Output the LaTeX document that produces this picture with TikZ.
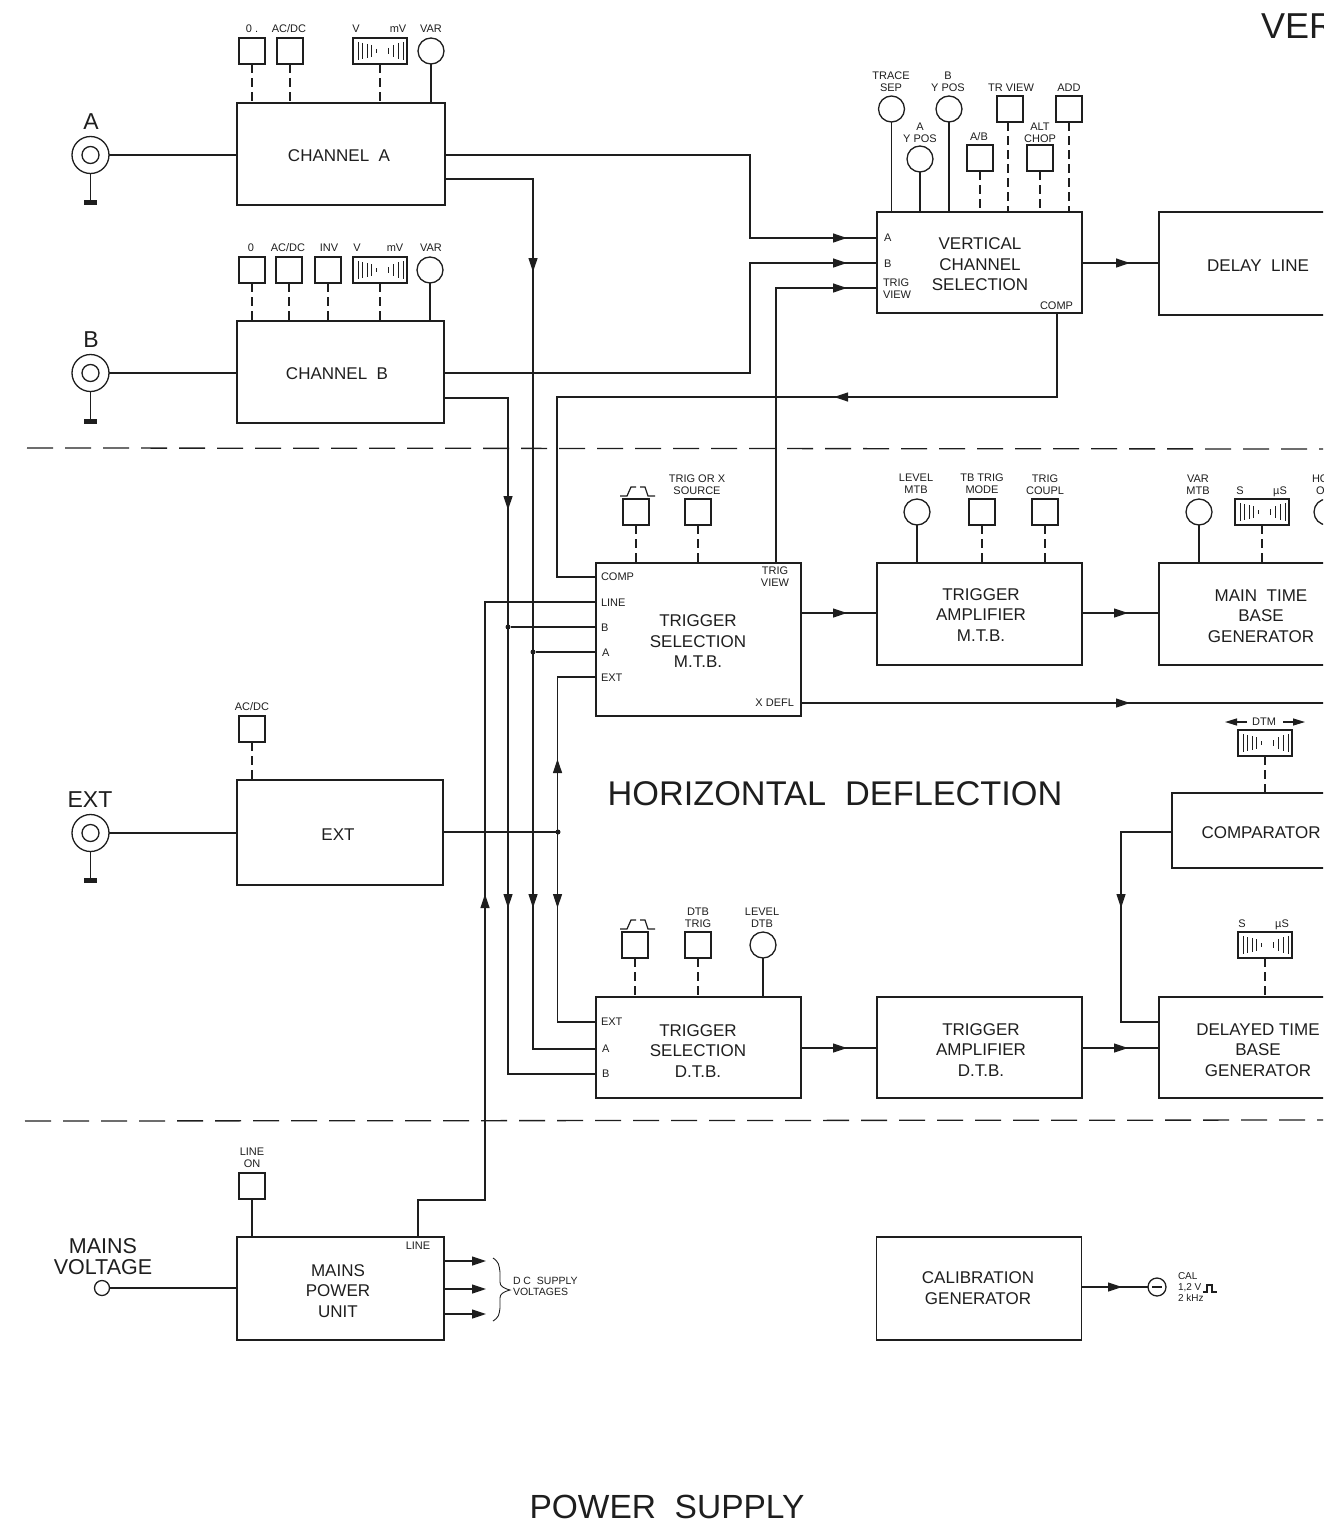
\documentclass[tikz,border=0pt]{standalone}
\usepackage{fontspec}
\setmainfont{Liberation Sans}
\usetikzlibrary{arrows.meta}
\definecolor{ink}{HTML}{1E1E1E}
\newcounter{lc}
\newcommand\smallf{\fontsize{11}{12}\selectfont}
\newcommand\blockf{\fontsize{17}{20.5}\selectfont}
\newcommand\lab[4][]{\stepcounter{lc}\node[lbl,#1] (lab\arabic{lc}) at (#2,#3) {#4};}
\newcommand\hugelab[4][]{\stepcounter{lc}\node[hugel,#1] (lab\arabic{lc}) at (#2,#3) {#4};}
\newcommand\tipline[4]{\draw[tipw] (#1,#2) -- (#3,#4);}
% range switch: name, x, y
\newcommand\rangesw[3]{%
  \node[swbox] (#1) at (#2,#3) {};
  \draw[draw=ink,line width=0.9pt,shift={(#2,#3)}]
    (-22,-9)--(-22,9) (-18,-8)--(-18,8) (-13,-7)--(-13,7) (-9,-6)--(-9,6) (-4,-2)--(-4,2)
    (8,-3)--(8,3) (13,-6)--(13,6) (18,-8)--(18,8) (23,-9)--(23,9);
}
% small pulse symbol: x, y
\newcommand\pulsesym[2]{%
  \draw[wire,shift={(#1,#2)}] (-16,5)--(-9,5)--(-5,-4)--(0,-4) (4,-4)--(9,-4)--(12,5)--(19,5);
}
\tikzset{
  wire/.style={draw=ink,line width=1.2pt},
  dashw/.style={draw=ink,line width=1.2pt,dash pattern=on 9pt off 5pt},
  tipw/.style={draw=ink,fill=ink,line width=1.2pt,-{Triangle[length=14pt,width=9pt]}},
  sep/.style={draw=ink,line width=1.3pt,dash pattern=on 26pt off 12pt},
  block/.style={draw=ink,line width=1.4pt,rectangle,outer sep=0pt,inner sep=0pt},
  btext/.style={inner sep=0pt,outer sep=0pt,align=center,font=\blockf,text=ink},
  sq/.style={draw=ink,line width=1.7pt,rectangle,minimum width=26pt,minimum height=26pt,outer sep=0pt,inner sep=0pt},
  knob/.style={draw=ink,line width=1.3pt,circle,minimum size=26pt,outer sep=0pt,inner sep=0pt},
  swbox/.style={draw=ink,line width=1.4pt,rectangle,minimum width=54pt,minimum height=26pt,outer sep=0pt,inner sep=0pt},
  jack/.style={draw=ink,line width=1.3pt,circle,outer sep=0pt,inner sep=0pt},
  dot/.style={fill=ink,circle,minimum size=5pt,inner sep=0pt,outer sep=0pt},
  lbl/.style={anchor=north,inner sep=0pt,outer sep=0pt,font=\smallf,text=ink,align=center},
  hugel/.style={anchor=north,inner sep=0pt,outer sep=0pt,text=ink,align=center},
}
\begin{document}
\begin{tikzpicture}[x=1pt,y=-1pt]
\useasboundingbox (0,0) rectangle (1341,1528);
\begin{scope}
\clip (0,0) rectangle (1323,1528);

% separators
\coordinate (sa) at (27,448); \coordinate (sb) at (1330,449);
\coordinate (sc) at (25,1121); \coordinate (sd) at (1330,1120);
\draw[sep] (sa) -- (sb);
\draw[sep] (sc) -- (sd);

% blocks
\node[block,minimum width=208pt,minimum height=102pt] (cha) at (341,154) {};
\node[btext] (chaT) at (339,156) {CHANNEL\ \ A};
\node[block,minimum width=207pt,minimum height=102pt] (chb) at (340.5,372) {};
\node[btext] (chbT) at (337,374) {CHANNEL\ \ B};
\node[block,minimum width=206pt,minimum height=105pt] (ext) at (340,832.5) {};
\node[btext] (extT) at (338,835) {EXT};
\node[block,minimum width=207pt,minimum height=103pt] (mains) at (340.5,1288.5) {};
\node[btext] (mainsT) at (338,1291) {MAINS\\POWER\\UNIT};
\node[block,minimum width=205pt,minimum height=101pt] (vcs) at (979.5,262.5) {};
\node[btext] (vcsT) at (980,264.5) {VERTICAL\\CHANNEL\\SELECTION};
\node[block,minimum width=198pt,minimum height=103pt] (dl) at (1258,263.5) {};
\node[btext] (dlT) at (1258,266) {DELAY\ \ LINE};
\node[block,minimum width=205pt,minimum height=153pt] (tsm) at (698.5,639.5) {};
\node[btext] (tsmT) at (698,641.5) {TRIGGER\\SELECTION\\M.T.B.};
\node[block,minimum width=205pt,minimum height=102pt] (tam) at (979.5,614) {};
\node[btext] (tamT) at (981,615) {TRIGGER\\AMPLIFIER\\M.T.B.};
\node[block,minimum width=204pt,minimum height=102pt] (mtb) at (1261,614) {};
\node[btext] (mtbT) at (1261,616) {MAIN\ \ TIME\\BASE\\GENERATOR};
\node[block,minimum width=178pt,minimum height=75pt] (cmp) at (1261,830.5) {};
\node[btext] (cmpT) at (1261,833) {COMPARATOR};
\node[block,minimum width=205pt,minimum height=101pt] (tsd) at (698.5,1047.5) {};
\node[btext] (tsdT) at (698,1051) {TRIGGER\\SELECTION\\D.T.B.};
\node[block,minimum width=205pt,minimum height=101pt] (tad) at (979.5,1047.5) {};
\node[btext] (tadT) at (981,1050) {TRIGGER\\AMPLIFIER\\D.T.B.};
\node[block,minimum width=198pt,minimum height=101pt] (dtb) at (1258,1047.5) {};
\node[btext] (dtbT) at (1258,1050) {DELAYED\ TIME\\BASE\\GENERATOR};
\node[block,minimum width=205pt,minimum height=103pt] (cal) at (979,1288.5) {};
\node[btext] (calT) at (978,1288) {CALIBRATION\\GENERATOR};

% jacks
\foreach \nm/\yy in {ja/155,jb/373,je/833}{
  \node[jack,minimum size=37pt] (\nm) at (90.5,\yy) {};
  \node[jack,minimum size=17pt] (\nm i) at (90.5,\yy) {};
}
\coordinate (ga) at (90.5,202); \coordinate (gb) at (90.5,421); \coordinate (ge) at (90.5,880);
\foreach \j/\g in {ja/ga,jb/gb,je/ge}{
  \draw[wire] (\j) -- (\g);
  \fill[ink] ([shift={(-6.5,-2.5)}]\g) rectangle ([shift={(6.5,2.5)}]\g);
}
\draw[wire] (ja) -- (ja -| cha.west);
\draw[wire] (jb) -- (jb -| chb.west);
\draw[wire] (je) -- (je -| ext.west);
\hugelab[font=\fontsize{23}{23}\selectfont]{91}{114}{A}
\hugelab[font=\fontsize{23}{23}\selectfont]{91}{332}{B}
\hugelab[font=\fontsize{23}{23}\selectfont]{90}{792}{EXT}

% channel A controls
\node[sq] (a0) at (252,51) {};
\node[sq] (a1) at (290,51) {};
\rangesw{a2}{380}{51}
\node[knob] (a3) at (431,51) {};
\lab{252}{25}{0\ .} \lab{289}{25}{AC/DC} \lab{356}{25}{V} \lab{398}{25}{mV} \lab{431}{25}{VAR}
\draw[dashw] (a0) -- (a0 |- cha.north);
\draw[dashw] (a1) -- (a1 |- cha.north);
\draw[dashw] (a2) -- (a2 |- cha.north);
\draw[wire] (a3) -- (a3 |- cha.north);

% channel B controls
\node[sq] (b0) at (252,270) {};
\node[sq] (b1) at (289,270) {};
\node[sq] (b2) at (328,270) {};
\rangesw{b3}{380}{270}
\node[knob] (b4) at (430,270) {};
\lab{251}{244}{0} \lab{288}{244}{AC/DC} \lab{329}{244}{INV} \lab{357}{244}{V} \lab{395}{244}{mV} \lab{431}{244}{VAR}
\draw[dashw] (b0) -- (b0 |- chb.north);
\draw[dashw] (b1) -- (b1 |- chb.north);
\draw[dashw] (b2) -- (b2 |- chb.north);
\draw[dashw] (b3) -- (b3 |- chb.north);
\draw[wire] (b4) -- (b4 |- chb.north);

% ext control
\node[sq] (e0) at (252,729) {};
\lab{252}{703}{AC/DC}
\draw[dashw] (e0) -- (e0 |- ext.north);

% vertical channel selection controls
\node[knob] (v1) at (891.5,109) {};
\node[knob] (v2) at (920,159) {};
\node[knob] (v3) at (949,109) {};
\node[sq] (v4) at (980,158) {};
\node[sq] (v5) at (1010,109) {};
\node[sq] (v6) at (1040,158) {};
\node[sq] (v7) at (1069,109) {};
\lab{891}{72}{TRACE\\SEP}
\lab{948}{72}{B\\Y POS}
\lab{920}{123}{A\\Y POS}
\lab{979}{133}{A/B}
\lab{1011}{84}{TR VIEW}
\lab{1040}{123}{ALT\\CHOP}
\lab{1069}{84}{ADD}
\draw[wire] (v1) -- (v1 |- vcs.north);
\draw[wire] (v2) -- (v2 |- vcs.north);
\draw[wire] (v3) -- (v3 |- vcs.north);
\draw[dashw] (v4) -- (v4 |- vcs.north);
\coordinate (v5b) at (1008,122); \draw[dashw] (v5b) -- (v5b |- vcs.north);
\draw[dashw] (v6) -- (v6 |- vcs.north);
\draw[dashw] (v7) -- (v7 |- vcs.north);
\lab[anchor=north west]{884}{234}{A}
\lab[anchor=north west]{884}{260}{B}
\lab[anchor=north west,align=left]{883}{279}{TRIG\\VIEW}
\lab[anchor=north east]{1073}{302}{COMP}

% trigger selection MTB controls
\pulsesym{636}{491}
\node[sq] (m1) at (636,512) {};
\node[sq] (m2) at (698,512) {};
\lab{697}{475}{TRIG OR X\\SOURCE}
\draw[dashw] (m1) -- (m1 |- tsm.north);
\draw[dashw] (m2) -- (m2 |- tsm.north);
\lab[anchor=north west]{601}{573}{COMP}
\lab[anchor=north west]{601}{599}{LINE}
\lab[anchor=north west]{601}{624}{B}
\lab[anchor=north west]{602}{649}{A}
\lab[anchor=north west]{601}{674}{EXT}
\lab{775}{567}{TRIG\\VIEW}
\lab[anchor=north east]{794}{699}{X DEFL}

% trigger amp MTB controls
\node[knob] (n1) at (917,512) {};
\node[sq] (n2) at (982,512) {};
\node[sq] (n3) at (1045,512) {};
\lab{916}{474}{LEVEL\\MTB}
\lab{982}{474}{TB TRIG\\MODE}
\lab{1045}{475}{TRIG\\COUPL}
\draw[wire] (n1) -- (n1 |- tam.north);
\draw[dashw] (n2) -- (n2 |- tam.north);
\draw[dashw] (n3) -- (n3 |- tam.north);

% main time base controls
\node[knob] (t1) at (1199,512) {};
\rangesw{t2}{1262}{512}
\node[knob] (t3) at (1327,512) {};
\lab{1198}{475}{VAR\\MTB}
\lab{1240}{487}{S}
\lab{1280}{487}{µS}
\lab[anchor=north west,align=left]{1312}{475}{HO}
\lab[anchor=north west]{1316}{487}{O}
\draw[wire] (t1) -- (t1 |- mtb.north);
\draw[dashw] (t2) -- (t2 |- mtb.north);

% DTM
\rangesw{d1}{1265}{743}
\lab{1264}{718}{DTM}
\coordinate (dl1) at (1247,722); \coordinate (dl2) at (1225,722);
\coordinate (dr1) at (1283,722); \coordinate (dr2) at (1305,722);
\draw[draw=ink,line width=1.2pt,-{Triangle[length=12pt,width=7pt]}] (dl1) -- (dl2);
\draw[draw=ink,line width=1.2pt,-{Triangle[length=12pt,width=7pt]}] (dr1) -- (dr2);
\draw[dashw] (d1) -- (d1 |- cmp.north);

% delayed TB control
\rangesw{d2}{1265}{945}
\lab{1242}{920}{S}
\lab{1282}{920}{µS}
\draw[dashw] (d2) -- (d2 |- dtb.north);

% trigger selection DTB controls
\pulsesym{636}{924}
\node[sq] (p1) at (635,945) {};
\node[sq] (p2) at (698,945) {};
\node[knob] (p3) at (763,945) {};
\lab{698}{908}{DTB\\TRIG}
\lab{762}{908}{LEVEL\\DTB}
\draw[dashw] (p1) -- (p1 |- tsd.north);
\draw[dashw] (p2) -- (p2 |- tsd.north);
\draw[wire] (p3) -- (p3 |- tsd.north);
\lab[anchor=north west]{601}{1018}{EXT}
\lab[anchor=north west]{602}{1045}{A}
\lab[anchor=north west]{602}{1070}{B}

% mains
\node[sq] (l1) at (252,1186) {};
\lab{252}{1148}{LINE\\ON}
\draw[wire] (l1) -- (l1 |- mains.north);
\node[jack,minimum size=15pt] (mv) at (102,1288) {};
\hugelab[font=\fontsize{21.5}{21}\selectfont]{103}{1238}{MAINS\\VOLTAGE}
\draw[wire] (mv) -- (mv -| mains.west);
\lab{418}{1242}{LINE}

% wires: inputs to vertical channel selection
\coordinate (pa) at (877,238); \coordinate (pb) at (877,263); \coordinate (pt) at (877,288);
\coordinate (ca1) at (445,155); \coordinate (ca2) at (445,179);
\coordinate (cb1) at (444,373); \coordinate (cb2) at (444,398);
\draw[wire] (ca1) -- (750,155) -- (750,238) -- (pa);
\draw[wire] (cb1) -- (750,373) -- (750,263) -- (pb);
\coordinate (tv) at (776,563);
\draw[wire] (tv) -- (776,288) -- (pt);
\tipline{830}{238}{847}{238}
\tipline{830}{263}{847}{263}
\tipline{830}{288}{847}{288}

% COMP return
\coordinate (c1) at (1057,313); \coordinate (c2) at (596,577);
\draw[wire] (c1) -- (1057,397) -- (557,397) -- (557,577) -- (c2);
\tipline{851}{397}{834}{397}

% A / B buses
\coordinate (pa2) at (596,1049); \coordinate (pb2) at (596,1074);
\coordinate (ma) at (596,652); \coordinate (mb) at (596,627);
\node[dot] (dota) at (533,652) {};
\node[dot] (dotb) at (508,627) {};
\draw[wire] (ca2) -- (533,179) -- (533,1049) -- (pa2);
\draw[wire] (cb2) -- (508,398) -- (508,1074) -- (pb2);
\draw[wire] (dota) -- (ma);
\draw[wire] (dotb) -- (mb);
\tipline{533}{255}{533}{272}
\tipline{508}{493}{508}{510}
\tipline{533}{891}{533}{908}
\tipline{508}{891}{508}{908}

% LINE
\coordinate (lo) at (418,1237); \coordinate (ml) at (596,602);
\draw[wire] (lo) -- (418,1200) -- (485,1200) -- (485,602) -- (ml);
\tipline{485}{911}{485}{894}

% EXT bus
\coordinate (eo) at (443,832); \coordinate (me) at (596,677); \coordinate (de) at (596,1022);
\node[dot] (dote) at (558,832) {};
\draw[wire] (eo) -- (dote);
\draw[wire] (me) -- (557.5,677) -- (557.5,1022) -- (de);
\tipline{557.5}{776}{557.5}{759}
\tipline{557.5}{891}{557.5}{908}

% signal path
\draw[wire] (tsm.east |- 0,613) -- (tam.west |- 0,613);
\draw[wire] (tam.east |- 0,613) -- (mtb.west |- 0,613);
\draw[wire] (vcs.east |- 0,263) -- (dl.west |- 0,263);
\draw[wire] (tsd.east |- 0,1048) -- (tad.west |- 0,1048);
\draw[wire] (tad.east |- 0,1048) -- (dtb.west |- 0,1048);
\tipline{830}{613}{847}{613}
\tipline{1111}{613}{1128}{613}
\tipline{1113}{263}{1130}{263}
\tipline{830}{1048}{847}{1048}
\tipline{1111}{1048}{1128}{1048}
\coordinate (xe) at (1330,703);
\draw[wire] (tsm.east |- xe) -- (xe);
\tipline{1113}{703}{1130}{703}

% comparator to delayed TB
\coordinate (k1) at (1121,832); \coordinate (k2) at (1121,1022);
\draw[wire] (cmp.west |- k1) -- (k1) -- (k2) -- (dtb.west |- k2);
\tipline{1121}{891}{1121}{908}

% mains outputs
\foreach \yy/\nm in {1261/o1,1289/o2,1314/o3}{
  \coordinate (\nm) at (486,\yy);
  \draw[tipw] (mains.east |- \nm) -- (\nm);
}
\draw[draw=ink,line width=0.9pt] (493,1258) .. controls (499,1262) and (499,1265) .. (500,1272) -- (500,1282) .. controls (500,1286) and (503,1288) .. (510,1290)
  .. controls (503,1292) and (500,1294) .. (500,1298) -- (500,1308) .. controls (499,1315) and (499,1317) .. (493,1321);
\lab[anchor=north west,align=left,font=\fontsize{10.5}{11.5}\selectfont]{513}{1277}{D C\ \ SUPPLY\\VOLTAGES}

% calibration output
\node[jack,minimum size=18pt] (cj) at (1157,1287) {};
\draw[wire] (cal.east |- cj) -- (cj);
\tipline{1105}{1287}{1122}{1287}
\draw[wire] (1152,1287) -- (1162,1287);
\lab[anchor=north west,align=left,font=\fontsize{10}{11}\selectfont]{1178}{1273}{CAL\\1,2 V\\2 kHz}
\draw[wire] (1203,1292) -- (1207,1292) -- (1207,1285) -- (1212,1285) -- (1212,1292) -- (1217,1292);

% titles
\hugelab[font=\fontsize{34.3}{35}\selectfont]{835}{782}{HORIZONTAL\ \ DEFLECTION}
\hugelab[font=\fontsize{33.5}{34}\selectfont]{667}{1495}{POWER\ \ SUPPLY}
\hugelab[anchor=north west,font=\fontsize{36}{36}\selectfont]{1261}{14}{VER}
\end{scope}
\end{tikzpicture}
\end{document}
